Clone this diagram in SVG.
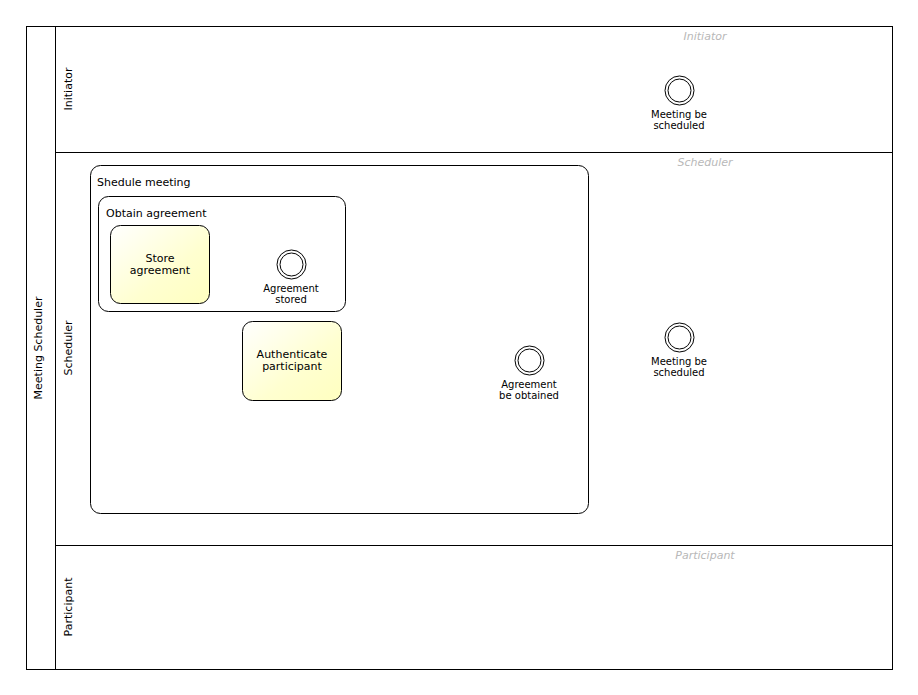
<svg xmlns="http://www.w3.org/2000/svg" width="918" height="695" viewBox="0 0 918 695">
<defs>
<linearGradient id="taskFill" x1="0" y1="0" x2="1" y2="1">
<stop offset="0" stop-color="#ffffff"/>
<stop offset="0.6" stop-color="#ffffd0"/>
<stop offset="1" stop-color="#ffffc0"/>
</linearGradient>
<style>
text{font-family:"DejaVu Sans","Liberation Sans",sans-serif;fill:#000}
.line{fill:none;stroke:#000;stroke-width:1}
.sub{fill:#fff;stroke:#000;stroke-width:1}
.task{fill:url(#taskFill);stroke:#000;stroke-width:1}
.ev{fill:#fff;stroke:#000;stroke-width:1}
.lbl{font-size:11px}
.small{font-size:10px}
.ghost{font-size:11px;font-style:italic;fill:#b8b8b8}
</style>
</defs>
<rect width="918" height="695" fill="#fff"/>
<g id="pool">
<rect class="line" x="26.5" y="26.5" width="866" height="643"/>
<line class="line" x1="55.5" y1="26.5" x2="55.5" y2="669.5"/>
<text class="lbl" transform="translate(42,348) rotate(-90)" text-anchor="middle">Meeting Scheduler</text>
</g>
<g id="lane-initiator">
<text class="lbl" transform="translate(72,89) rotate(-90)" text-anchor="middle">Initiator</text>
<text class="ghost" x="705" y="40" text-anchor="middle">Initiator</text>
</g>
<g id="lane-scheduler">
<line class="line" x1="55.5" y1="152.5" x2="892.5" y2="152.5"/>
<text class="lbl" transform="translate(72,348) rotate(-90)" text-anchor="middle">Scheduler</text>
<text class="ghost" x="705" y="166" text-anchor="middle">Scheduler</text>
</g>
<g id="lane-participant">
<line class="line" x1="55.5" y1="545.5" x2="892.5" y2="545.5"/>
<text class="lbl" transform="translate(72,607) rotate(-90)" text-anchor="middle">Participant</text>
<text class="ghost" x="705" y="559" text-anchor="middle">Participant</text>
</g>
<g id="shedule-meeting">
<rect class="sub" x="90.5" y="165.5" width="498" height="348" rx="10"/>
<text class="lbl" x="97" y="186">Shedule meeting</text>
</g>
<g id="obtain-agreement">
<rect class="sub" x="98.5" y="196.5" width="247" height="115" rx="10"/>
<text class="lbl" x="106" y="217">Obtain agreement</text>
</g>
<g id="store-agreement">
<rect class="task" x="110.5" y="225.5" width="99" height="78" rx="10"/>
<text class="lbl" x="160" y="262" text-anchor="middle">Store</text>
<text class="lbl" x="160" y="274" text-anchor="middle">agreement</text>
</g>
<g id="authenticate-participant">
<rect class="task" x="242.5" y="321.5" width="99" height="79" rx="10"/>
<text class="lbl" x="292" y="358" text-anchor="middle">Authenticate</text>
<text class="lbl" x="292" y="370" text-anchor="middle">participant</text>
</g>
<g id="agreement-stored">
<circle class="ev" cx="291.5" cy="264.5" r="14.5"/>
<circle class="ev" cx="291.5" cy="264.5" r="11.5"/>
<text class="small" x="291" y="292" text-anchor="middle">Agreement</text>
<text class="small" x="291" y="303" text-anchor="middle">stored</text>
</g>
<g id="agreement-be-obtained">
<circle class="ev" cx="529.5" cy="360.5" r="14.5"/>
<circle class="ev" cx="529.5" cy="360.5" r="11.5"/>
<text class="small" x="529" y="388" text-anchor="middle">Agreement</text>
<text class="small" x="529" y="399" text-anchor="middle">be obtained</text>
</g>
<g id="meeting-be-scheduled-1">
<circle class="ev" cx="679.5" cy="90.5" r="14.5"/>
<circle class="ev" cx="679.5" cy="90.5" r="11.5"/>
<text class="small" x="679" y="118" text-anchor="middle">Meeting be</text>
<text class="small" x="679" y="129" text-anchor="middle">scheduled</text>
</g>
<g id="meeting-be-scheduled-2">
<circle class="ev" cx="679.5" cy="337.5" r="14.5"/>
<circle class="ev" cx="679.5" cy="337.5" r="11.5"/>
<text class="small" x="679" y="365" text-anchor="middle">Meeting be</text>
<text class="small" x="679" y="376" text-anchor="middle">scheduled</text>
</g>
<g id="connectors"></g>
</svg>
